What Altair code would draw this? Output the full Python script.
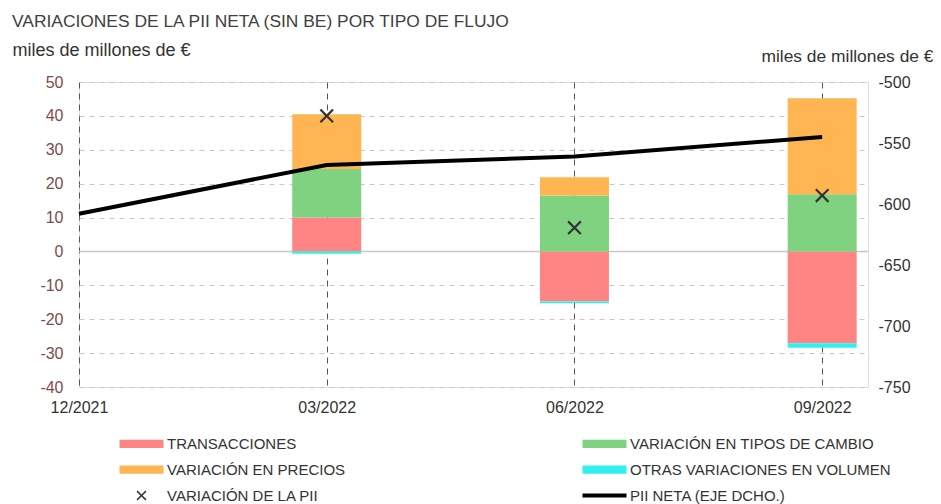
import json
import altair as alt
import pandas as pd

TITLE = "VARIACIONES DE LA PII NETA (SIN BE) POR TIPO DE FLUJO"
UNIT = "miles de millones de €"

periodos = ["12/2021", "03/2022", "06/2022", "09/2022"]
# legend order (the legend fills column by column)
series = ["TRANSACCIONES", "VARIACIÓN EN PRECIOS", "VARIACIÓN DE LA PII",
          "VARIACIÓN EN TIPOS DE CAMBIO", "OTRAS VARIACIONES EN VOLUMEN", "PII NETA (EJE DCHO.)"]
colores = ["#ff8585", "#ffb552", "#333333", "#7fd27f", "#33f0f0", "#000000"]

# bar components for 03/2022, 06/2022, 09/2022
componentes = ["TRANSACCIONES", "VARIACIÓN EN TIPOS DE CAMBIO", "VARIACIÓN EN PRECIOS",
               "OTRAS VARIACIONES EN VOLUMEN"]
transacciones = [10.0, -14.8, -27.1]
tipos_cambio = [14.3, 16.5, 16.9]
precios = [16.2, 5.4, 28.3]
otras = [-0.7, -0.5, -1.3]
variacion_pii = [40.0, 7.0, 16.5]
pii_neta = [-608, -568, -561, -545]

# shapes (legend swatches and X marker)
RECT = "M-4,-0.75H4V0.75H-4Z"
LINE = "M-4,-0.36H4V0.36H-4Z"
a, d = 0.9, 0.2
XPATH = (f"M{-a},{-a+d}L{-a+d},{-a}L0,{-d}L{a-d},{-a}L{a},{-a+d}L{d},0L{a},{a-d}"
         f"L{a-d},{a}L0,{d}L{-a+d},{a}L{-a},{a-d}L{-d},0Z")
formas = [RECT, RECT, XPATH, RECT, RECT, LINE]

rows = []
for i in range(3):
    for k, (s, vals) in enumerate(zip(componentes, [transacciones, tipos_cambio, precios, otras])):
        rows.append({"idx": i + 1, "serie": s, "valor": vals[i], "orden": k})
df_bars = pd.DataFrame(rows)
df_x = pd.DataFrame({"idx": [1, 2, 3], "var": variacion_pii, "serie": "VARIACIÓN DE LA PII"})
df_line = pd.DataFrame({"idx": list(range(4)), "pii": pii_neta})
df_zero = pd.DataFrame({"y": [0]})
df_title = pd.DataFrame({"t": [TITLE]})

W, H = 789, 305
FONT = "Liberation Sans"
MINUS = "replace(datum.label, '\u2212', '-')"

xscale = alt.Scale(domain=[0, 3.185], nice=False, zero=False, padding=0)
label_expr = json.dumps(periodos) + "[datum.value]"
xaxis = alt.Axis(values=[0, 1, 2, 3], labelExpr=label_expr, title=None, domain=False, ticks=False,
                 grid=True, gridColor="#555555", gridDash=[6, 5], gridWidth=1, labelFlush=False,
                 labelPadding=12, labelFontSize=16, labelColor="#333333", labelFont=FONT)
yscale = alt.Scale(domain=[-40, 50], nice=False, zero=False)
yaxis = alt.Axis(values=list(range(-40, 51, 10)), title=UNIT, titleAngle=0, titleAlign="left",
                 titleBaseline="alphabetic", titleX=-67, titleY=-27, titleFontSize=18,
                 titleFontWeight="normal", titleColor="#333333", titleFont=FONT,
                 domain=False, ticks=False, labelPadding=16, labelFontSize=16,
                 labelColor="#7d4b4b", labelFont=FONT, labelExpr=MINUS,
                 grid=True, gridColor="#c8c8c8", gridDash=[5, 5], gridWidth=1)
color = alt.Color("serie:N", scale=alt.Scale(domain=series, range=colores),
                  legend=alt.Legend(title=None, orient="none", legendX=38, legendY=354,
                                    columns=2, columnPadding=234, rowPadding=10,
                                    symbolSize=121, symbolOffset=17, labelOffset=18,
                                    symbolStrokeWidth=0, labelFontSize=15, labelFont=FONT,
                                    labelColor="#333333", labelLimit=400, padding=0))
shape = alt.Shape("serie:N", scale=alt.Scale(domain=series, range=formas), legend=alt.Legend(title=None))

zero = alt.Chart(df_zero).mark_rule(color="#c8c8c8", strokeWidth=1.5).encode(
    y=alt.Y("y:Q", scale=yscale, axis=yaxis))

bars = alt.Chart(df_bars).mark_bar(size=69, opacity=1).encode(
    x=alt.X("idx:Q", scale=xscale, axis=xaxis),
    y=alt.Y("valor:Q", scale=yscale, axis=yaxis, stack="zero"),
    color=color,
    order=alt.Order("orden:Q"),
)

marks_x = alt.Chart(df_x).mark_point(filled=True, size=250, opacity=1, strokeWidth=0).encode(
    x=alt.X("idx:Q", scale=xscale, axis=xaxis),
    y=alt.Y("var:Q", scale=yscale, axis=yaxis),
    color=color,
    shape=shape,
)

left = alt.layer(zero, bars, marks_x)

line = alt.Chart(df_line).mark_line(color="#000000", strokeWidth=4).encode(
    x=alt.X("idx:Q", scale=xscale, axis=xaxis),
    y=alt.Y("pii:Q", scale=alt.Scale(domain=[-750, -500], nice=False, zero=False),
            axis=alt.Axis(orient="right", values=list(range(-750, -499, 50)), title=UNIT,
                          titleAngle=0, titleAlign="right", titleBaseline="alphabetic",
                          titleX=65, titleY=-21, titleFontSize=17.4, titleFontWeight="normal",
                          titleColor="#333333", titleFont=FONT, labelExpr=MINUS,
                          domain=False, ticks=False, grid=False, labelPadding=10,
                          labelFontSize=16, labelColor="#333333", labelFont=FONT)),
)

title = alt.Chart(df_title).mark_text(align="left", baseline="alphabetic", fontSize=17.4,
                                      color="#404040", font=FONT).encode(
    text="t:N", x=alt.value(-67), y=alt.value(-55))

chart = alt.layer(left, line, title).resolve_scale(y="independent").properties(
    width=W, height=H,
    autosize=alt.AutoSizeParams(type="none"),
    padding={"left": 71, "top": 74, "right": 65, "bottom": 117},
).configure_view(stroke=None).configure(background="white")

chart.save("out.html", embed_options={"renderer": "svg", "actions": False})
